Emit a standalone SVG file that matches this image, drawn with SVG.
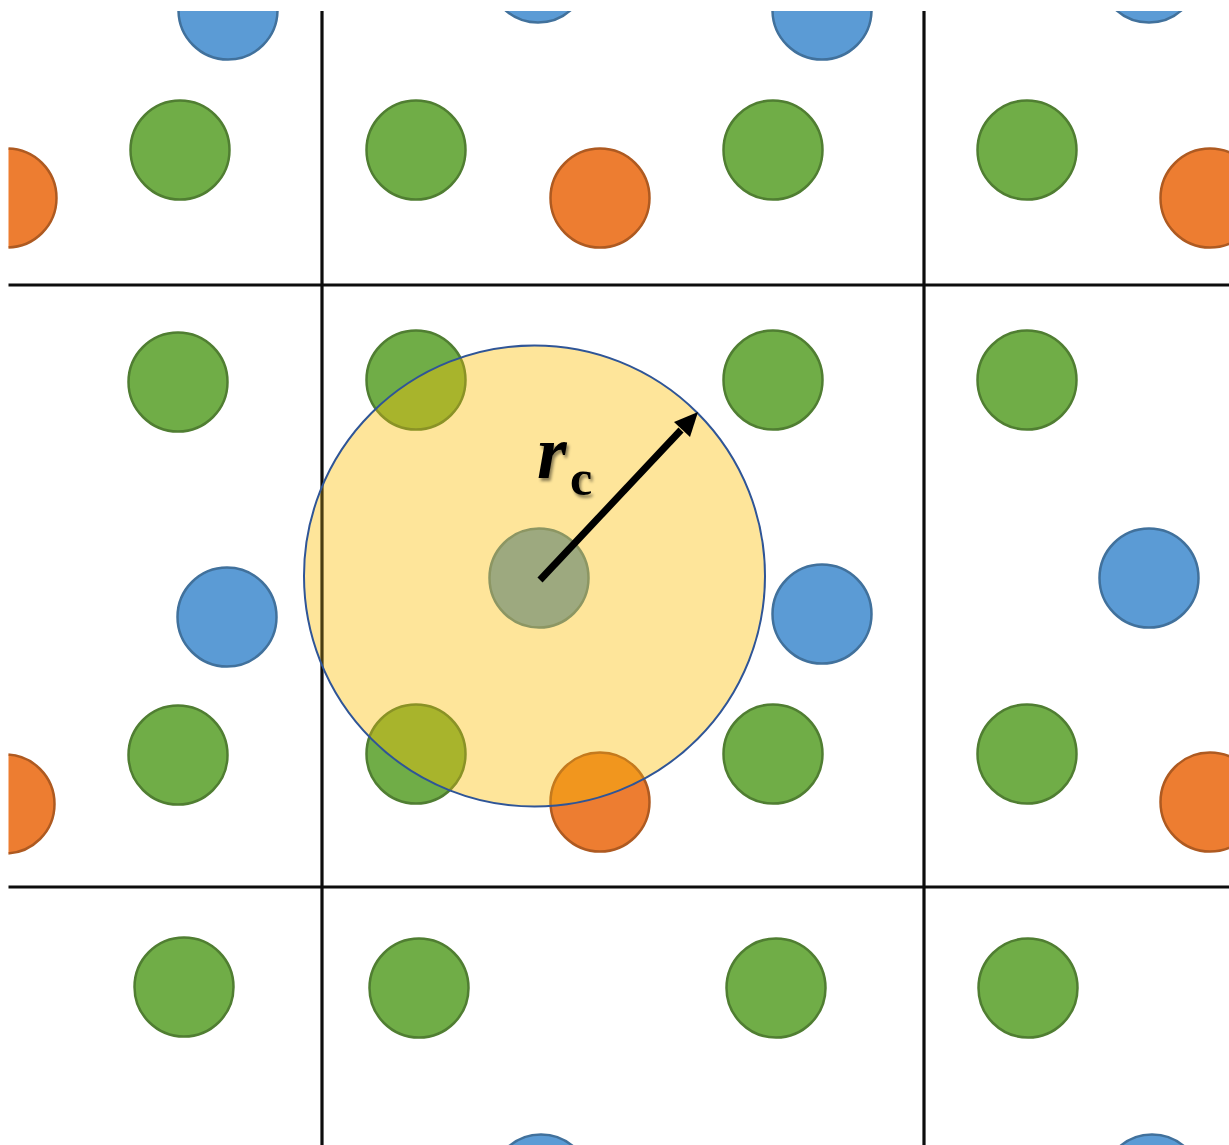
<svg xmlns="http://www.w3.org/2000/svg" width="1229" height="1145" viewBox="0 0 1229 1145">
  <defs>
    <style>
      .g { fill: #70AD47; stroke: #507E32; stroke-width: 2.5; }
      .b { fill: #5B9BD5; stroke: #41719C; stroke-width: 2.5; }
      .o { fill: #ED7D31; stroke: #AE5A21; stroke-width: 2.5; }
      .gy { fill: #A8B42C; stroke: #8A9226; stroke-width: 2.5; }
      .oy { fill: #F1961E; stroke: #C47A1E; stroke-width: 2.5; }
      .grid { stroke: #0D0D0D; stroke-width: 3.2; fill: none; }
      .gridy { stroke: #4A3D12; stroke-width: 3.2; fill: none; }
      .lbl { font-family: "Liberation Serif", "Times New Roman", serif; font-weight: bold; fill: #000000; }
    </style>
    <clipPath id="frame">
      <rect x="8.5" y="11" width="1221" height="1134"/>
    </clipPath>
    <clipPath id="cut">
      <circle cx="534.5" cy="576" r="230.5"/>
    </clipPath>
    <filter id="shadow" x="-30%" y="-30%" width="160%" height="160%">
      <feDropShadow dx="2" dy="3" stdDeviation="1.6" flood-color="#000000" flood-opacity="0.45"/>
    </filter>
  </defs>
  <rect x="0" y="0" width="1229" height="1145" fill="#FFFFFF"/>
  <g clip-path="url(#frame)">
    <g id="particles">
      <circle class="b" cx="228" cy="10" r="49.5"/>
      <circle class="b" cx="538" cy="-27" r="49.5"/>
      <circle class="b" cx="822" cy="10" r="49.5"/>
      <circle class="b" cx="1149" cy="-27" r="49.5"/>
      <circle class="g" cx="180" cy="150" r="49.5"/>
      <circle class="g" cx="416" cy="150" r="49.5"/>
      <circle class="g" cx="773" cy="150" r="49.5"/>
      <circle class="g" cx="1027" cy="150" r="49.5"/>
      <circle class="o" cx="7" cy="198" r="49.5"/>
      <circle class="o" cx="600" cy="198" r="49.5"/>
      <circle class="o" cx="1210" cy="198" r="49.5"/>
      <circle class="g" cx="178" cy="382" r="49.5"/>
      <circle class="g" cx="416" cy="380" r="49.5"/>
      <circle class="g" cx="773" cy="380" r="49.5"/>
      <circle class="g" cx="1027" cy="380" r="49.5"/>
      <circle class="b" cx="227" cy="617" r="49.5"/>
      <circle class="b" cx="822" cy="614" r="49.5"/>
      <circle class="b" cx="1149" cy="578" r="49.5"/>
      <circle class="g" cx="178" cy="755" r="49.5"/>
      <circle class="g" cx="416" cy="754" r="49.5"/>
      <circle class="g" cx="773" cy="754" r="49.5"/>
      <circle class="g" cx="1027" cy="754" r="49.5"/>
      <circle class="o" cx="5" cy="804" r="49.5"/>
      <circle class="o" cx="600" cy="802" r="49.5"/>
      <circle class="o" cx="1210" cy="802" r="49.5"/>
      <circle class="g" cx="184" cy="987" r="49.5"/>
      <circle class="g" cx="419" cy="988" r="49.5"/>
      <circle class="g" cx="776" cy="988" r="49.5"/>
      <circle class="g" cx="1028" cy="988" r="49.5"/>
      <circle class="b" cx="541" cy="1184" r="49.5"/>
      <circle class="b" cx="1152" cy="1184" r="49.5"/>
    </g>
    <g id="grid">
      <line class="grid" x1="322" y1="0" x2="322" y2="1145"/>
      <line class="grid" x1="924" y1="0" x2="924" y2="1145"/>
      <line class="grid" x1="0" y1="285" x2="1229" y2="285"/>
      <line class="grid" x1="0" y1="887" x2="1229" y2="887"/>
    </g>
    <g id="cutoff-sphere">
      <circle cx="534.5" cy="576" r="230.5" fill="#FEE59A"/>
      <g clip-path="url(#cut)">
        <circle class="gy" cx="416" cy="380" r="49.5"/>
        <circle class="gy" cx="416" cy="754" r="49.5"/>
        <circle class="oy" cx="600" cy="802" r="49.5"/>
        <line class="gridy" x1="322" y1="300" x2="322" y2="860"/>
      </g>
      <circle id="center-particle" cx="539" cy="578" r="49.5" fill="#9DA97F" stroke="#8C9663" stroke-width="2.5"/>
      <circle cx="534.5" cy="576" r="230.5" fill="none" stroke="#2F5597" stroke-width="2"/>
    </g>
    <g id="connectors">
      <line x1="540" y1="580" x2="681" y2="430" stroke="#000000" stroke-width="7"/>
      <polygon points="698,412 690,437 674,422" fill="#000000"/>
    </g>
    <g id="label" filter="url(#shadow)">
      <text class="lbl" x="537" y="478" font-size="76" font-style="italic">r</text>
      <text class="lbl" x="570" y="495" font-size="50">c</text>
    </g>
  </g>
</svg>
